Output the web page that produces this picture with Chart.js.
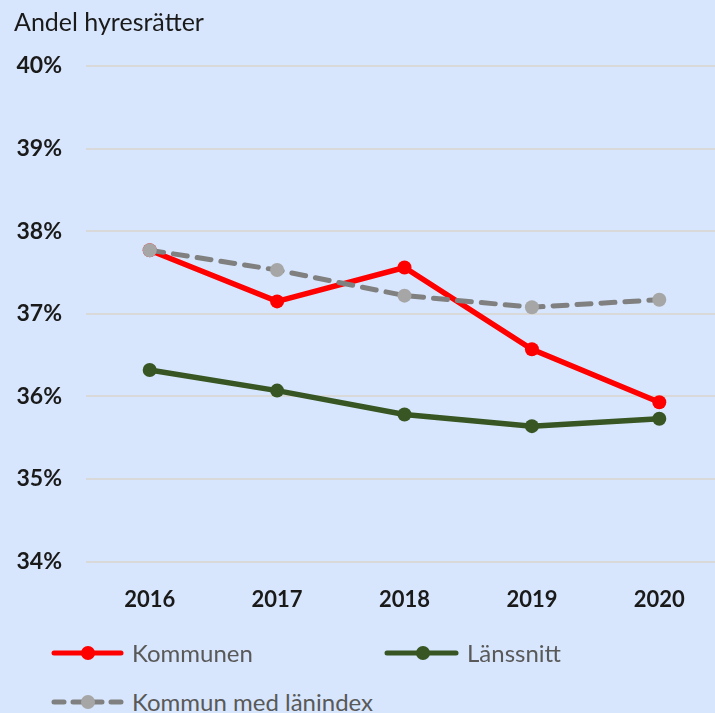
<!DOCTYPE html>
<html>
<head>
<meta charset="utf-8">
<script src="https://cdn.jsdelivr.net/npm/chart.js@4"></script>
<style>
  html, body { margin: 0; padding: 0; }
  body { width: 715px; height: 713px; overflow: hidden; background: #D7E6FC; position: relative; font-family: Lato, "Liberation Sans", sans-serif; }
  #wrap { position: absolute; left: 0; top: 0; width: 730px; height: 653px; }
  #titel { position: absolute; left: 14px; top: 6px; font-size: 25px; color: #1a1a1a; }
  .leg { position: absolute; display: flex; align-items: center; font-size: 24px; color: #595959; }
  .leg svg { margin-right: 6px; }
</style>
</head>
<body>
<div id="wrap"><canvas id="andel"></canvas></div>
<div id="titel">Andel hyresrätter</div>

<div class="leg" style="left:48px; top:638px;">
  <svg width="78" height="28"><line x1="6" y1="14" x2="73" y2="14" stroke="#FF0000" stroke-width="5" stroke-linecap="round"/><circle cx="40" cy="14" r="7" fill="#FF0000"/></svg>Kommunen
</div>
<div class="leg" style="left:381px; top:638px;">
  <svg width="80" height="28"><line x1="6" y1="14" x2="75" y2="14" stroke="#375623" stroke-width="5" stroke-linecap="round"/><circle cx="42" cy="14" r="7" fill="#375623"/></svg>Länssnitt
</div>
<div class="leg" style="left:48px; top:687px;">
  <svg width="78" height="28"><line x1="6" y1="14" x2="73" y2="14" stroke="#808080" stroke-width="5" stroke-linecap="round" stroke-dasharray="10 9"/><circle cx="40" cy="14" r="7" fill="#A6A6A6"/></svg>Kommun med länindex
</div>

<script>
const years = ['2016', '2017', '2018', '2019', '2020'];
const kommunen = [37.77, 37.15, 37.56, 36.57, 35.93];
const lanssnitt = [36.32, 36.07, 35.78, 35.64, 35.73];
const lanindex = [37.77, 37.53, 37.22, 37.08, 37.17];
const yTicks = [34, 35, 36, 37, 38, 39, 40];

const ctx = document.getElementById('andel');

new Chart(ctx, {
    type: 'line',
    data: {
        labels: years,
        datasets: [
            {
                label: 'Kommun med länindex',
                data: lanindex,
                borderColor: '#808080',
                backgroundColor: '#A6A6A6',
                pointBackgroundColor: '#A6A6A6',
                pointBorderColor: '#A6A6A6',
                borderWidth: 5,
                borderDash: [14, 10],
                borderCapStyle: 'round',
                pointRadius: 7,
                pointBorderWidth: 0,
                tension: 0
            },
            {
                label: 'Kommunen',
                data: kommunen,
                borderColor: '#FF0000',
                backgroundColor: '#FF0000',
                borderWidth: 5.5,
                pointRadius: 7,
                pointBorderWidth: 0,
                tension: 0
            },
            {
                label: 'Länssnitt',
                data: lanssnitt,
                borderColor: '#375623',
                backgroundColor: '#375623',
                borderWidth: 5.5,
                pointRadius: 7,
                pointBorderWidth: 0,
                tension: 0
            }
        ]
    },
    options: {
        responsive: true,
        maintainAspectRatio: false,
        animation: false,
        layout: { padding: { top: 66, bottom: 15, left: 0, right: 0 } },
        plugins: {
            legend: { display: false },
            tooltip: { enabled: false }
        },
        scales: {
            x: {
                offset: true,
                grid: { display: false, drawTicks: false },
                border: { display: false },
                ticks: {
                    padding: 25,
                    color: '#1a1a1a',
                    font: { family: 'Lato', size: 22, weight: 'bold' }
                }
            },
            y: {
                min: 34,
                max: 40,
                afterFit: scale => { scale.width = 86; },
                afterBuildTicks: scale => { scale.ticks = yTicks.map(v => ({ value: v })); },
                grid: { color: '#D9D9D9', lineWidth: 2, drawTicks: false },
                border: { display: false },
                ticks: {
                    padding: 24,
                    color: '#1a1a1a',
                    font: { family: 'Lato', size: 23, weight: 'bold' },
                    callback: v => v + '%'
                }
            }
        }
    }
});
</script>
</body>
</html>
